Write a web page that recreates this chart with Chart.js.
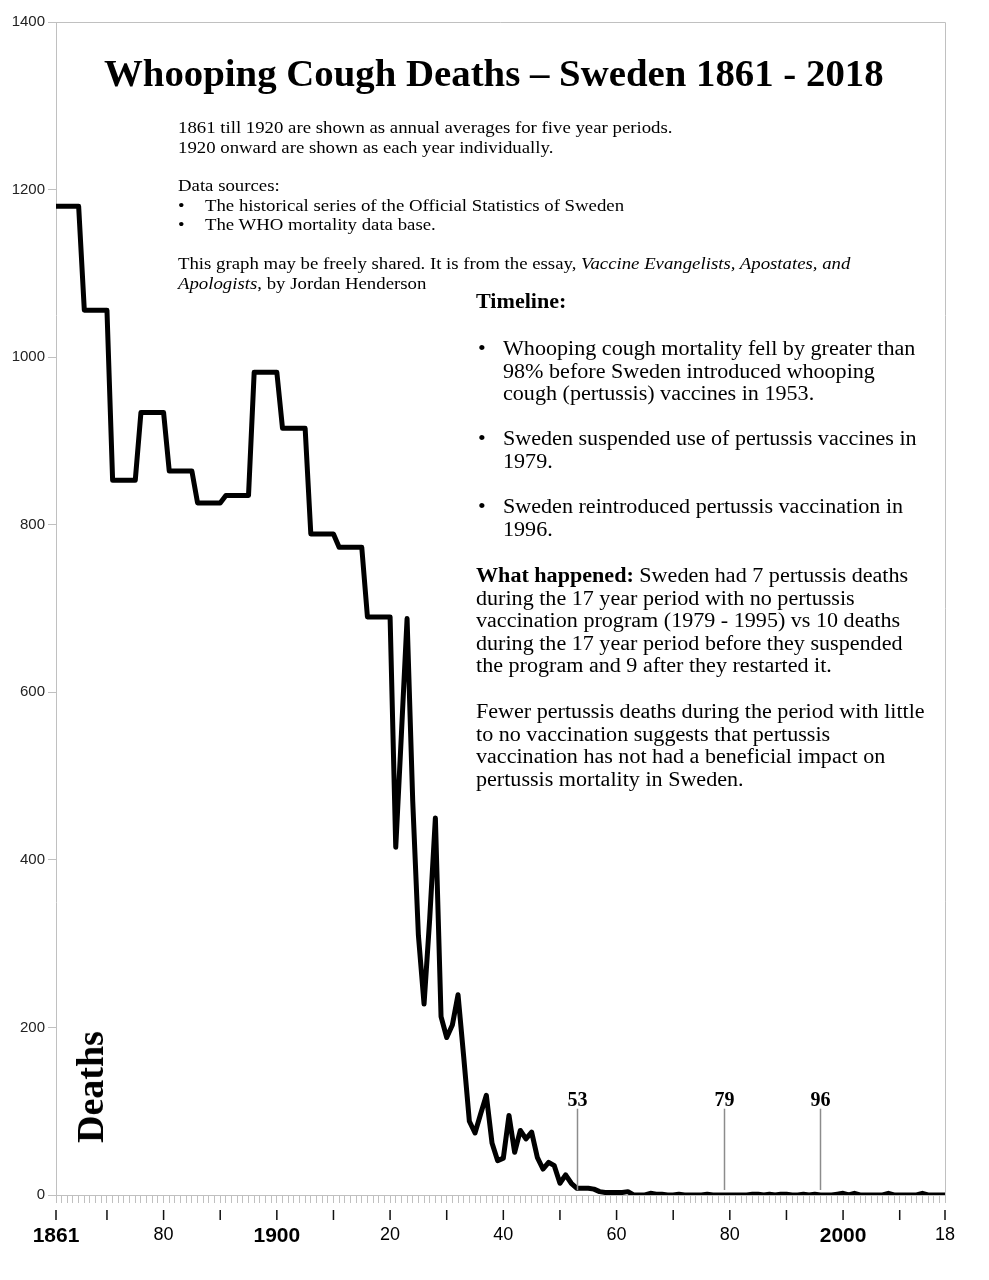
<!DOCTYPE html>
<html><head><meta charset="utf-8">
<script src="https://cdn.jsdelivr.net/npm/chart.js@4"></script>
<style>
html,body{margin:0;padding:0;background:#fff;}
#wrap{position:relative;width:989px;height:1280px;overflow:hidden;}
#c{position:absolute;left:0;top:0;}
.t{position:absolute;font-family:"Liberation Serif","Times New Roman",serif;color:#000;white-space:nowrap;transform-origin:0 0;}
.small{font-size:16px;line-height:19.5px;transform:scaleX(1.174);}
.big{font-size:20.5px;line-height:22.5px;transform:scaleX(1.078);}
</style></head>
<body>
<div id="wrap">
<canvas id="c" width="989" height="1280"></canvas>
<div class="t" id="title" style="left:104px;top:52px;font-size:37px;font-weight:bold;line-height:44px;transform:scaleX(1.049);">Whooping Cough Deaths – Sweden 1861 - 2018</div>

<div class="t small" style="left:178px;top:118px;">1861 till 1920 are shown as annual averages for five year periods.<br>1920 onward are shown as each year individually.</div>
<div class="t small" style="left:178px;top:176px;">Data sources:</div>
<div class="t small" style="left:178px;top:196px;">•</div>
<div class="t small" style="left:205px;top:196px;">The historical series of the Official Statistics of Sweden</div>
<div class="t small" style="left:178px;top:215px;">•</div>
<div class="t small" style="left:205px;top:215px;">The WHO mortality data base.</div>
<div class="t small" style="left:178px;top:254px;">This graph may be freely shared. It is from the essay, <i>Vaccine Evangelists, Apostates, and</i><br><i>Apologists</i>, by Jordan Henderson</div>

<div class="t big" style="left:476px;top:290px;font-weight:bold;">Timeline:</div>
<div class="t big" style="left:478px;top:337px;">•</div>
<div class="t big" style="left:503px;top:337px;">Whooping cough mortality fell by greater than<br>98% before Sweden introduced whooping<br>cough (pertussis) vaccines in 1953.</div>
<div class="t big" style="left:478px;top:427px;">•</div>
<div class="t big" style="left:503px;top:427px;">Sweden suspended use of pertussis vaccines in<br>1979.</div>
<div class="t big" style="left:478px;top:495px;">•</div>
<div class="t big" style="left:503px;top:495px;">Sweden reintroduced pertussis vaccination in<br>1996.</div>
<div class="t big" style="left:476px;top:564px;"><b>What happened:</b> Sweden had 7 pertussis deaths<br>during the 17 year period with no pertussis<br>vaccination program (1979 - 1995) vs 10 deaths<br>during the 17 year period before they suspended<br>the program and 9 after they restarted it.</div>
<div class="t big" style="left:476px;top:700px;">Fewer pertussis deaths during the period with little<br>to no vaccination suggests that pertussis<br>vaccination has not had a beneficial impact on<br>pertussis mortality in Sweden.</div>

<div class="t" style="left:90px;top:1087px;font-size:38px;font-weight:bold;line-height:40px;transform-origin:50% 50%;transform:translate(-50%,-50%) rotate(-90deg);">Deaths</div>
</div>
<script>
// ---- DATA ----
const firstYear = 1861;
const lastYear = 2018;
// five-year period averages, 1861-65 ... 1916-20
const periodStarts = [1861,1866,1871,1876,1881,1886,1891,1896,1901,1906,1911,1916];
const periodAverages = [1180,1056,853,934,864,826,835,982,915,789,773,690];
// annual deaths 1921 ... 2018
const annualStart = 1921;
const annualDeaths = [
 415,550,688,470,310,228,330,450,213,188, // 1921-1930
 203,239,165,88,74,97,119,62,41,44,       // 1931-1940
 95,51,77,67,75,45,31,39,35,14,           // 1941-1950
 24,14,8,8,8,7,4,3,3,3,                   // 1951-1960
 3,4,0,0,0,2,1,1,0,0,                     // 1961-1970
 1,0,0,0,0,1,0,0,0,0,                     // 1971-1980
 0,0,0,1,1,0,1,0,1,1,                     // 1981-1990
 0,0,1,0,1,0,0,0,1,2,                     // 1991-2000
 0,2,0,0,0,0,0,2,0,0,                     // 2001-2010
 0,0,0,2,0,0,0,0                          // 2011-2018
];
const yTicks = [0,200,400,600,800,1000,1200,1400];
const majorTickYears = [1861,1870,1880,1890,1900,1910,1920,1930,1940,1950,1960,1970,1980,1990,2000,2010,2018];
const xLabelYears = [1861,1880,1900,1920,1940,1960,1980,2000,2018];
const xLabelTexts = ['1861','80','1900','20','40','60','80','2000','18'];
const boldLabelYears = [1861,1900,2000];
const markerYears = [1953,1979,1996];
const markerLabels = ['53','79','96'];
const markerRange = [6,103];

// ---- build points ----
const points = [];
periodStarts.forEach((s,i)=>{ for(let k=0;k<5;k++) points.push({x:s+k,y:periodAverages[i]}); });
annualDeaths.forEach((v,i)=>points.push({x:annualStart+i,y:v}));
const allYears = [];
for(let y=firstYear;y<=lastYear;y++) allYears.push(y);

const GRAY = '#c0c0c0';
const frame = {
  id:'frame',
  afterDraw(chart){
    const {ctx, chartArea:a, scales:{x,y}} = chart;
    ctx.save();
    ctx.strokeStyle = GRAY; ctx.lineWidth = 1;
    ctx.beginPath();
    const yt = Math.round(y.getPixelForValue(1400))+0.5;
    ctx.moveTo(a.left, yt); ctx.lineTo(a.right+0.5, yt);
    ctx.moveTo(Math.round(a.right)+0.5, yt); ctx.lineTo(Math.round(a.right)+0.5, a.bottom);
    ctx.stroke();
    ctx.strokeStyle = '#111'; ctx.lineWidth = 1.5;
    ctx.beginPath();
    majorTickYears.forEach(v=>{
      const px = x.getPixelForValue(v);
      ctx.moveTo(px, a.bottom+15); ctx.lineTo(px, a.bottom+25);
    });
    ctx.stroke();
    ctx.strokeStyle = '#8c8c8c'; ctx.lineWidth = 1.5;
    ctx.fillStyle = '#000';
    ctx.font = 'bold 20px "Liberation Serif", serif';
    ctx.textAlign = 'center'; ctx.textBaseline = 'alphabetic';
    markerYears.forEach((v,i)=>{
      const px = Math.round(x.getPixelForValue(v))+0.5;
      const y0 = y.getPixelForValue(markerRange[0]);
      const y1 = y.getPixelForValue(markerRange[1]);
      ctx.beginPath(); ctx.moveTo(px,y0); ctx.lineTo(px,y1); ctx.stroke();
      ctx.fillText(markerLabels[i], px, y1-3);
    });
    ctx.restore();
  }
};

new Chart(document.getElementById('c'), {
  type:'line',
  data:{ datasets:[{ data:points, borderColor:'#000', borderWidth:5, pointRadius:0, tension:0, fill:false, borderJoinStyle:'round' }]},
  options:{
    responsive:false, animation:false,
    layout:{ padding:{ top:22, right:44, left:0, bottom:0 } },
    plugins:{ legend:{display:false}, tooltip:{enabled:false}, title:{display:false} },
    scales:{
      x:{
        type:'linear', min:firstYear, max:lastYear,
        afterBuildTicks(s){ s.ticks = allYears.map(v=>({value:v})); },
        afterFit(s){ s.height = 85; },
        grid:{ drawOnChartArea:false, drawTicks:true, tickLength:8, tickColor:GRAY, color:GRAY, lineWidth:1 },
        border:{ color:GRAY, width:1 },
        ticks:{
          autoSkip:false, maxRotation:0, minRotation:0, padding:21, color:'#000',
          callback(v){ const i = xLabelYears.indexOf(v); return i>=0 ? xLabelTexts[i] : ''; },
          font(ctx){ const v = ctx.tick && ctx.tick.value; return boldLabelYears.includes(v) ? {family:'"Liberation Sans", Arial, sans-serif', size:21, weight:'bold'} : {family:'"Liberation Sans", Arial, sans-serif', size:18}; }
        }
      },
      y:{
        min:0, max:1400,
        afterBuildTicks(s){ s.ticks = yTicks.map(v=>({value:v})); },
        afterFit(s){ s.width = 56; },
        grid:{ drawOnChartArea:false, drawTicks:true, tickLength:8, tickColor:GRAY, color:GRAY },
        border:{ color:GRAY, width:1 },
        ticks:{ padding:3, color:'#222', font:{family:'"Liberation Sans", Arial, sans-serif', size:15},
          callback(v){ return String(v); } }
      }
    }
  },
  plugins:[frame]
});
</script>
</body></html>
